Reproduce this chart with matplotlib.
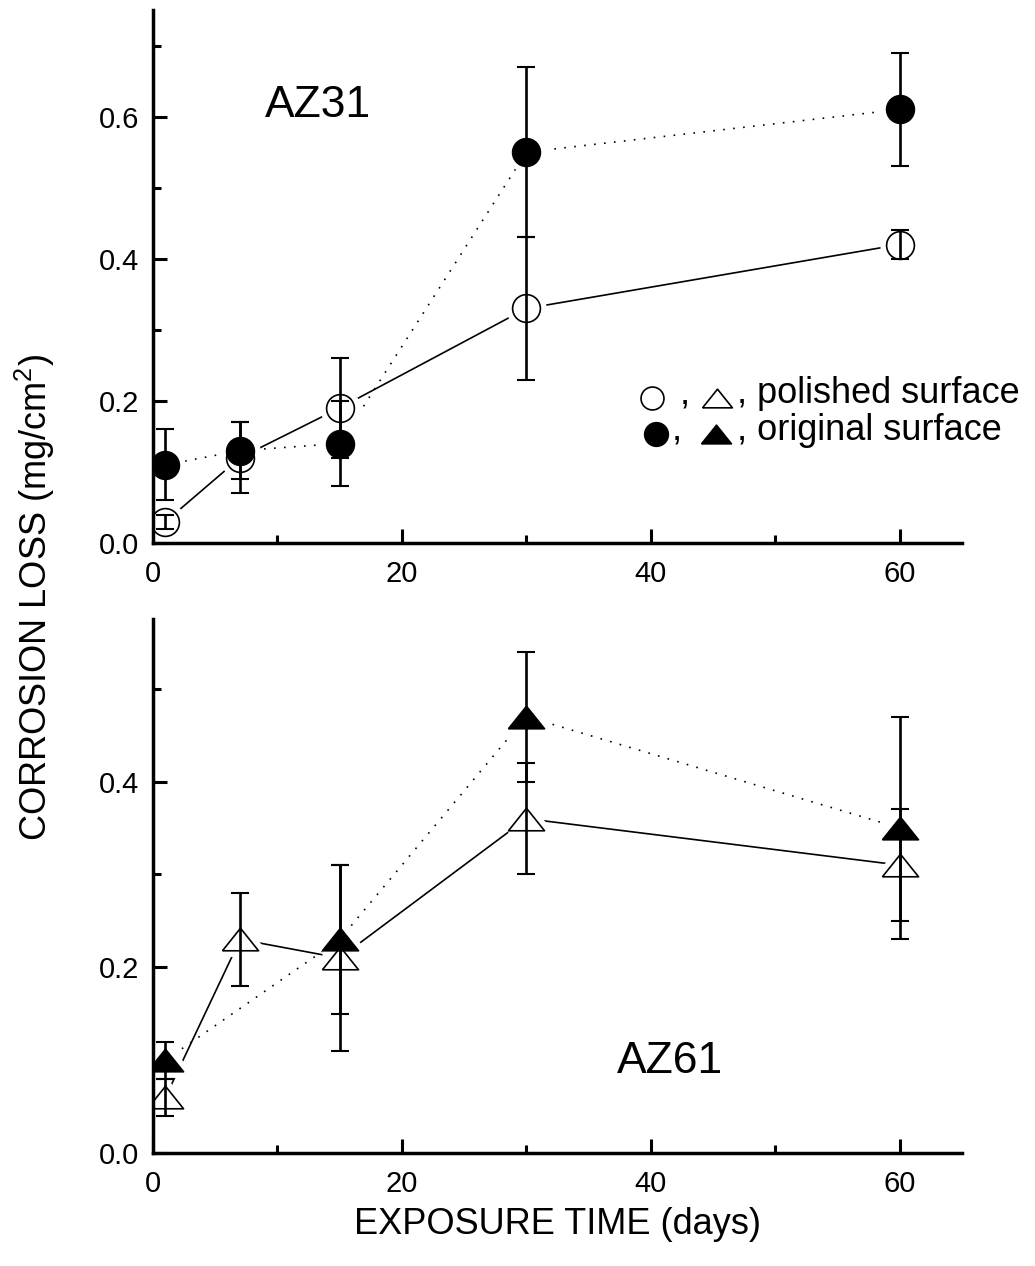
import matplotlib
matplotlib.use("Agg")
import matplotlib.pyplot as plt
from matplotlib.ticker import MultipleLocator, FormatStrFormatter

plt.rcParams['font.family'] = ['Liberation Sans', 'DejaVu Sans']
plt.rcParams['mathtext.default'] = 'regular'

# ---- data ----
days = [1, 7, 15, 30, 60]

az31_polished = [0.03, 0.12, 0.19, 0.33, 0.42]
az31_polished_err = [0.01, 0.05, 0.07, 0.10, 0.02]
az31_original = [0.11, 0.13, 0.14, 0.55, 0.61]
az31_original_err = [0.05, 0.04, 0.06, 0.12, 0.08]

az61_polished = [0.06, 0.23, 0.21, 0.36, 0.31]
az61_polished_err = [0.02, 0.05, 0.10, 0.06, 0.06]
az61_original = [0.10, None, 0.23, 0.47, 0.35]
az61_original_err = [0.02, None, 0.08, 0.07, 0.12]

xticks = [0, 20, 40, 60]
xlabel = "EXPOSURE TIME (days)"
ylabel = "CORROSION LOSS (mg/cm$^2$)"
legend_polished = "polished surface"
legend_original = "original surface"

tri = [(-1, -0.625), (1, -0.625), (0, 0.625), (-1, -0.625)]

fig = plt.figure(figsize=(10.35, 12.66), dpi=100)
W, H = 1035, 1266
ax1 = fig.add_axes([153 / W, 1 - 543 / H, (962 - 153) / W, (543 - 10) / H])
ax2 = fig.add_axes([153 / W, 1 - 1153 / H, (962 - 153) / W, (1153 - 619) / H])


def series(x, y, e):
    xs = [a for a, b in zip(x, y) if b is not None]
    ys = [b for b in y if b is not None]
    es = [c for c in e if c is not None]
    return xs, ys, es


def draw(ax, sets):
    # connecting lines
    for xs, ys, es, marker, ms, filled, ls in sets:
        ax.plot(xs, ys, color='black', lw=1.2, ls=ls, zorder=1)
    # white halos to create gaps between lines and symbols
    for xs, ys, es, marker, ms, filled, ls in sets:
        ax.plot(xs, ys, ls='none', marker=marker, ms=ms, mfc='white',
                mec='white', mew=9, zorder=2)
    # error bars
    for xs, ys, es, marker, ms, filled, ls in sets:
        ax.errorbar(xs, ys, yerr=es, fmt='none', ecolor='black', elinewidth=1.9,
                    capsize=6.5, capthick=1.5, zorder=3)
    # symbols
    for xs, ys, es, marker, ms, filled, ls in sets:
        ax.plot(xs, ys, ls='none', marker=marker, ms=ms,
                mfc='black' if filled else 'none', mec='black', mew=1.2, zorder=4)


dotted = (0, (1, 5))
s1 = series(days, az31_polished, az31_polished_err)
s2 = series(days, az31_original, az31_original_err)
draw(ax1, [(*s1, 'o', 20, False, '-'), (*s2, 'o', 20, True, dotted)])

s3 = series(days, az61_polished, az61_polished_err)
s4 = series(days, az61_original, az61_original_err)
draw(ax2, [(*s3, tri, 26, False, '-'), (*s4, tri, 26, True, dotted)])

for ax, ytop in ((ax1, 0.75), (ax2, 0.575)):
    ax.set_xlim(0, 65)
    ax.set_ylim(0, ytop)
    ax.spines['top'].set_visible(False)
    ax.spines['right'].set_visible(False)
    ax.spines['left'].set_linewidth(2.5)
    ax.spines['bottom'].set_linewidth(2.5)
    ax.set_xticks(xticks)
    ax.xaxis.set_minor_locator(MultipleLocator(10))
    ax.yaxis.set_major_locator(MultipleLocator(0.2))
    ax.yaxis.set_minor_locator(MultipleLocator(0.1))
    ax.yaxis.set_major_formatter(FormatStrFormatter('%.1f'))
    ax.tick_params(which='major', direction='in', length=10, width=2.2,
                   labelsize=21, pad=10)
    ax.tick_params(axis='x', which='major', pad=12)
    ax.tick_params(which='minor', direction='in', length=6, width=2.2)
    ax.tick_params(axis='y', which='both', right=False)
    ax.tick_params(axis='x', which='both', top=False)

ax1.text(9.0, 0.60, "AZ31", fontsize=32, ha='left', va='baseline')
ax2.text(37.3, 0.086, "AZ61", fontsize=32, ha='left', va='baseline')

# legend built from symbols and text
legfs = 26
y1, y2 = 0.1965, 0.145
ax1.plot([40.1], [y1 + 0.008], ls='none', marker='o', ms=16.5, mfc='none',
         mec='black', mew=1.2, clip_on=False, zorder=5)
ax1.plot([45.3], [y1 + 0.008], ls='none', marker=tri, ms=21.5, mfc='none',
         mec='black', mew=1.2, clip_on=False, zorder=5)
ax1.text(42.3, y1, ",", fontsize=legfs, ha='left', va='baseline')
ax1.text(46.9, y1, ", " + legend_polished, fontsize=legfs, ha='left',
         va='baseline', clip_on=False)

ax1.plot([40.4], [y2 + 0.009], ls='none', marker='o', ms=17, mfc='black',
         mec='black', mew=1.2, clip_on=False, zorder=5)
ax1.plot([45.2], [y2 + 0.008], ls='none', marker=tri, ms=21.5, mfc='black',
         mec='black', mew=1.2, clip_on=False, zorder=5)
ax1.text(41.7, y2, ",", fontsize=legfs, ha='left', va='baseline')
ax1.text(46.9, y2, ", " + legend_original, fontsize=legfs, ha='left',
         va='baseline', clip_on=False)

fig.text(557 / W, 1 - 1225 / H, xlabel, fontsize=26, ha='center', va='center')
fig.text(35 / W, 1 - 598 / H, ylabel, fontsize=26, ha='center', va='center',
         rotation=90)

fig.savefig("out.png", dpi=100)
